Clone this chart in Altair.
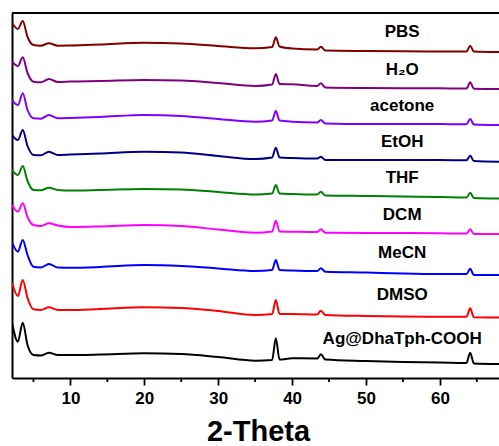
import altair as alt
import pandas as pd

# 2-Theta sampling positions (degrees)
two_theta = [2.12, 2.9, 3.55, 4.2, 5.0, 6.0, 7.1, 8.3, 10, 14, 20, 25, 30, 35,
             37.3, 37.8, 38.3, 40, 43.4, 43.9, 44.5, 50, 55, 60, 63.6, 64.1, 64.6, 68.1]

# stacked intensities (a.u., already offset as in the figure)
pbs = [355, 349, 357, 341, 333, 332.3, 334.7, 332.3, 332.5, 333.5, 335.3, 334.5, 332, 329.7,
       331, 340.7, 331.5, 329.5, 328.5, 331.3, 327.5, 327, 326.7, 326.5, 326.5, 332.3, 326.5, 326]
h2o = [316.3, 312, 320.7, 305, 296.3, 295.7, 299, 296, 296.5, 297, 298, 297.5, 295, 292,
       293.5, 304, 294, 293.7, 292, 294.7, 290.5, 290, 289.8, 289.7, 289.5, 295.7, 289.3, 289]
acetone = [278, 273, 284.7, 268, 259.7, 259.3, 263, 259.7, 260, 261, 263, 262, 259, 256.3,
           257.5, 267, 257.5, 256.3, 255.5, 258, 254.5, 254, 254, 254, 253.7, 259, 253.5, 253]
etoh = [243, 238, 248, 232, 223, 222.7, 226.3, 223, 223.5, 224.5, 226.3, 225.5, 222, 219,
        220.5, 230.3, 220.5, 220, 219.5, 221.3, 218, 218, 218, 218, 217.7, 222.3, 217, 216.3]
thf = [208, 203, 212, 197, 188, 187.7, 190.3, 188, 187.5, 188, 189, 188.5, 186, 183.5,
       184.5, 193, 184.5, 184, 183.5, 186.3, 182.5, 182, 181.5, 181, 180.5, 185.3, 180, 179.5]
dcm = [173, 166.3, 174.7, 161, 153, 152, 154.7, 152.5, 151, 151.5, 153, 152, 148.5, 145.3,
       146.5, 157.3, 146.5, 146.3, 146, 148.7, 145.3, 145, 145, 144.7, 144.5, 148.7, 144, 144]
mecn = [135.3, 126.3, 138, 123, 111.3, 110.5, 114, 110.5, 110.3, 111, 113, 112, 109.5, 107,
        108, 118, 108, 107.5, 107, 109.7, 106.3, 105.5, 104.5, 104, 104, 109.3, 103, 103]
dmso = [94.7, 82, 98, 80, 68.7, 68, 70.7, 68, 68, 69, 70.7, 70, 67, 63,
        64, 78, 64, 64, 63.5, 67.3, 63, 62, 61.5, 61.3, 61.3, 69.7, 60.7, 60.5]
ag = [54.7, 36.3, 55.3, 33, 23, 22.5, 25.3, 23, 23, 23.5, 24.7, 24, 21, 17.3,
      18, 39.7, 18.5, 19.7, 19.5, 23.7, 18.5, 17, 16, 15.5, 15, 25.3, 14.5, 14]

samples = ["PBS", "H\u2082O", "acetone", "EtOH", "THF", "DCM", "MeCN", "DMSO", "Ag@DhaTph-COOH"]
series = [pbs, h2o, acetone, etoh, thf, dcm, mecn, dmso, ag]
colors = ["#800000", "#800080", "#8000FF", "#000080", "#008000",
          "#FF00FF", "#0000FF", "#FF0000", "#000000"]

major_ticks = [10, 20, 30, 40, 50, 60]
minor_ticks = [5, 15, 25, 35, 45, 55, 65]

X_DOMAIN = [2.1, 68]
Y_DOMAIN = [0, 365]
W, H = 487, 365
FONT = "Liberation Sans"

rows = []
for name, vals in zip(samples, series):
    for t, v in zip(two_theta, vals):
        rows.append({"theta": t, "intensity": v, "sample": name})
df = pd.DataFrame(rows)

# label: centred between this curve and the one above it, at 2θ = 55
label_x = 55
idx = two_theta.index(label_x)
lab_rows = []
prev = Y_DOMAIN[1]
for name, vals in zip(samples, series):
    lab_rows.append({"theta": 54.9, "intensity": (prev + vals[idx]) / 2, "sample": name})
    prev = vals[idx]
labels_df = pd.DataFrame(lab_rows)

xscale = alt.Scale(domain=X_DOMAIN, nice=False, zero=False)
yscale = alt.Scale(domain=Y_DOMAIN, nice=False, zero=False)

lines = alt.Chart(df).mark_line(strokeWidth=2, interpolate="monotone", clip=True).encode(
    x=alt.X("theta:Q", scale=xscale,
            axis=alt.Axis(values=major_ticks, title="2-Theta", grid=False,
                          domainColor="black", domainWidth=2, tickColor="black",
                          tickWidth=1.8, tickSize=7, labelFont=FONT, labelFontSize=17,
                          labelFontWeight="bold", labelColor="black", labelPadding=5,
                          titleFont=FONT, titleFontSize=29, titleFontWeight="bold",
                          titleColor="black", titleBaseline="alphabetic",
                          titleX=246, titleY=62)),
    y=alt.Y("intensity:Q", scale=yscale,
            axis=alt.Axis(labels=False, ticks=False, title=None, grid=False,
                          domainColor="black", domainWidth=2)),
    color=alt.Color("sample:N", scale=alt.Scale(domain=samples, range=colors), legend=None),
    detail="sample:N",
)

texts = alt.Chart(labels_df).mark_text(
    font=FONT, fontSize=17, fontWeight="bold", color="black", baseline="middle", align="center"
).encode(x=alt.X("theta:Q", scale=xscale), y=alt.Y("intensity:Q", scale=yscale),
         text="sample:N")

minor = alt.Chart(pd.DataFrame({"t": minor_ticks})).mark_rule(
    color="black", strokeWidth=1.8, clip=False
).encode(x=alt.X("t:Q", scale=xscale), y=alt.value(H), y2=alt.value(H + 4))

top_border = alt.Chart(pd.DataFrame({"a": [0]})).mark_rule(
    color="black", strokeWidth=2
).encode(x=alt.value(0), x2=alt.value(W), y=alt.value(0))

chart = alt.layer(lines, texts, minor, top_border).properties(
    width=W, height=H,
    autosize=alt.AutoSizeParams(type="none"),
    padding={"left": 12, "top": 13, "right": 0, "bottom": 68},
    background="white",
).configure_view(stroke=None)

chart.save("out.html", embed_options={"renderer": "svg", "actions": False})
